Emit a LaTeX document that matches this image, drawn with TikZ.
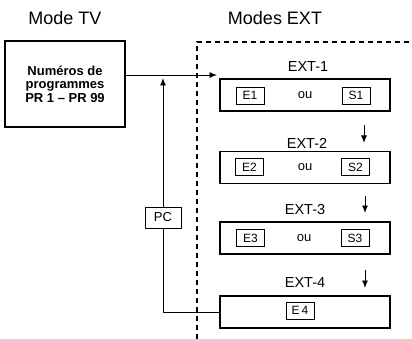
\documentclass[tikz,border=0pt]{standalone}
\usepackage{fontspec}
\setmainfont{Liberation Sans}
\usetikzlibrary{arrows.meta}
\begin{document}
\begin{tikzpicture}[x=1pt,y=-1pt,
  line width=0.95pt,
  arr/.style={-{Latex[length=7.5pt,width=6pt]}},
  title/.style={font=\fontsize{18}{20}\selectfont, inner sep=0pt},
  lbl/.style={font=\fontsize{14.5}{16}\selectfont, inner sep=0pt},
  extbox/.style={draw, line width=1.1pt, minimum width=170pt, minimum height=32pt, inner sep=0pt},
  chbox/.style={draw, line width=0.85pt, minimum width=28pt, minimum height=17pt, inner sep=0pt, font=\fontsize{12}{13}\selectfont},
  oubox/.style={inner sep=0pt, font=\fontsize{13}{14}\selectfont},
  dashline/.style={dashed, dash pattern=on 5pt off 4pt, line width=1.3pt}]
\useasboundingbox (0,0) rectangle (412,339);
% titles
\node[title] (tvtitle) at (65,18) {Mode TV};
\node[title] (exttitle) at (275,18) {Modes EXT};
% TV box
\node[draw, line width=1.1pt, minimum width=120pt, minimum height=86pt, inner sep=0pt,
  align=center, font=\bfseries\fontsize{13}{13.5}\selectfont] (tv) at (65,84)
  {Numéros de\\programmes\\PR 1 – PR 99};
% dashed frame
\coordinate (dbot) at (197,339);
\coordinate (dcorner) at (197,42);
\coordinate (dright) at (412,42);
\draw[dashline] (dbot) -- (dcorner) -- (dright);
% EXT boxes
\node[extbox] (ext1) at (305,95) {};
\node[extbox] (ext2) at (305,167.5) {};
\node[extbox] (ext3) at (305,238) {};
\node[extbox] (ext4) at (305,312) {};
% EXT labels
\node[lbl] (l1) at (308,67) {EXT-1};
\node[lbl] (l2) at (307,143) {EXT-2};
\node[lbl] (l3) at (305,210) {EXT-3};
\node[lbl] (l4) at (305,283) {EXT-4};
% inner boxes
\node[chbox] (e1) at (250,95.5) {E1};
\node[oubox] (o1) at (305,95) {ou};
\node[chbox] (s1) at (356,95.5) {S1};
\node[chbox] (e2) at (249.5,167) {E2};
\node[oubox] (o2) at (305,167) {ou};
\node[chbox] (s2) at (355.5,167) {S2};
\node[chbox] (e3) at (250.5,238) {E3};
\node[oubox] (o3) at (304,238) {ou};
\node[chbox] (s3) at (355,238) {S3};
\node[chbox] (e4) at (300,310.5) {E\,4};
% arrows between EXT
\coordinate (a1s) at (364,125); \coordinate (a1e) at (364,143);
\coordinate (a2s) at (365,196); \coordinate (a2e) at (365,213);
\coordinate (a3s) at (365,270); \coordinate (a3e) at (365,288);
\draw[arr] (a1s) -- (a1e);
\draw[arr] (a2s) -- (a2e);
\draw[arr] (a3s) -- (a3e);
% main arrow
\coordinate (in1) at (217,75);
\draw[arr] (tv.east |- in1) -- (in1);
% PC loop
\node[draw, line width=1pt, minimum width=36pt, minimum height=21pt, inner sep=0pt,
  font=\fontsize{13}{14}\selectfont] (pc) at (163,217.5) {PC};
\coordinate (up) at (163,78);
\draw (ext4.west) -| (pc.south);
\draw[arr] (pc.north) -- (up);
\end{tikzpicture}
\end{document}
